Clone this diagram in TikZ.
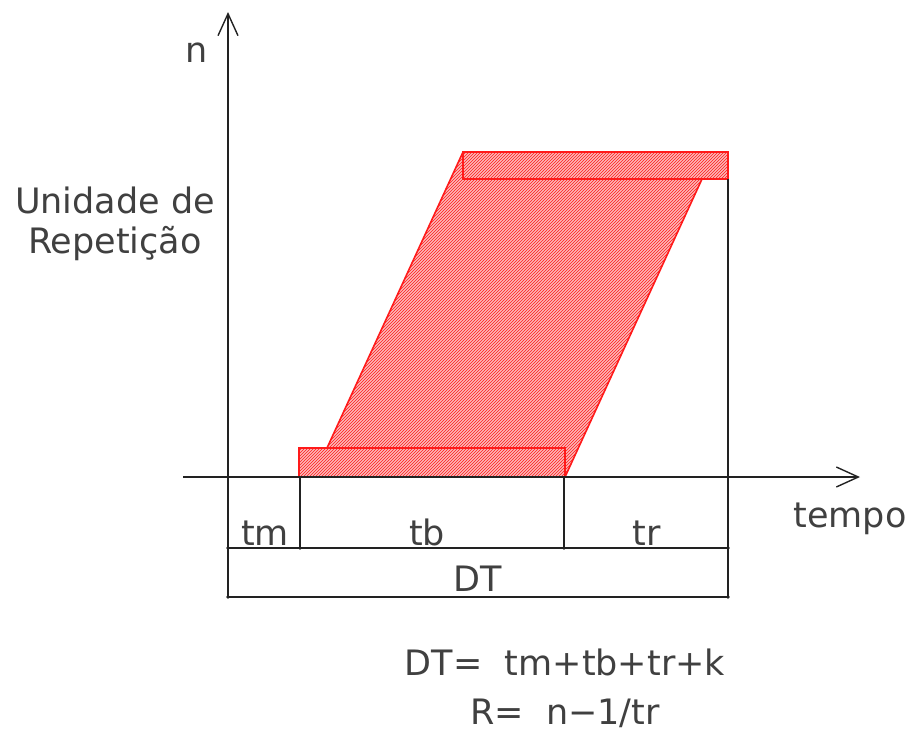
\documentclass[tikz,border=0pt]{standalone}
\usepackage{fontspec}
\setmainfont{DejaVu Sans}
\usetikzlibrary{arrows.meta,patterns}
\definecolor{lineGrey}{HTML}{222222}
\definecolor{hatchRed}{HTML}{FF1A1A}
\definecolor{hatchFill}{HTML}{FBBABA}

\begin{document}
\begin{tikzpicture}[x=1pt,y=-1pt,every node/.style={font=\fontsize{35}{40}\selectfont,text=black!75,inner sep=0pt}]
      \tikzstyle{axis}=[draw=lineGrey,line width=1.4pt,
                        -{Straight Barb[length=22pt,width=20pt,line width=1.4pt]}]
      \tikzstyle{guide}=[draw=lineGrey,line width=1.5pt]
      \tikzstyle{block}=[draw=hatchRed,line width=1.6pt]
      \tikzstyle{label}=[anchor=base]
      \useasboundingbox (0,0) rectangle (909,744);
      % axes
      \coordinate (ybot) at (228,597);
      \coordinate (ytop) at (228,12);
      \coordinate (xl) at (183,477);
      \coordinate (xr) at (860,477);
      % production block corners
      \coordinate (b1) at (299,477);
      \coordinate (b2) at (299,448);
      \coordinate (b3) at (327,448);
      \coordinate (b4) at (565,448);
      \coordinate (b5) at (565,477);
      \coordinate (t1) at (463,152);
      \coordinate (t2) at (728,152);
      \coordinate (t3) at (728,179);
      \coordinate (t4) at (702,179);
      % dimension points
      \coordinate (d0) at (228,548);
      \coordinate (d1) at (300,548);
      \coordinate (d2) at (564,548);
      \coordinate (d3) at (728,548);
      \coordinate (e0) at (228,597);
      \coordinate (e3) at (728,597);
      \coordinate (v1) at (300,477);
      \coordinate (v2) at (564,477);
      % hatched block
      \fill[hatchFill,postaction={pattern=north east lines,pattern color=hatchRed}]
        (b1)--(b2)--(b3)--(t1)--(t2)--(t3)--(t4)--(b5)--cycle;
      \draw[block] (b1) rectangle (b4);
      \draw[block] (t1) rectangle (t3);
      \draw[block] (b3)--(t1);
      \draw[block] (b5)--(t4);
      \draw[axis] (xl)--(xr);
      \draw[axis] (ybot)--(ytop);
      \draw[guide] (t3)--(e3);
      \draw[guide] (v1)--(d1);
      \draw[guide] (v2)--(d2);
      \draw[guide] (d0)--(d3);
      \draw[guide] (e0)--(e3);
      \foreach \p in {d0,d1,d2,d3,e0,e3}
        \fill[lineGrey] (\p) circle (1.8pt);
      % texts
      \node[label] (n) at (197,62) {n};
      \node[label] (unid) at (115,213) {Unidade de};
      \node[label] (rep) at (115,253) {Repetição};
      \node[label] (tempo) at (850,527) {tempo};
      \node[label] (tm) at (265,545) {tm};
      \node[label] (tb) at (427,545) {tb};
      \node[label] (tr) at (647,545) {tr};
      \node[label] (dt) at (478,591) {DT};
      \node[label] (eq1) at (565,675) {DT=\ \ tm+tb+tr+k};
      \node[label] (eq2) at (565,724) {R=\ \ n−1/tr};
    \end{tikzpicture}
\end{document}
